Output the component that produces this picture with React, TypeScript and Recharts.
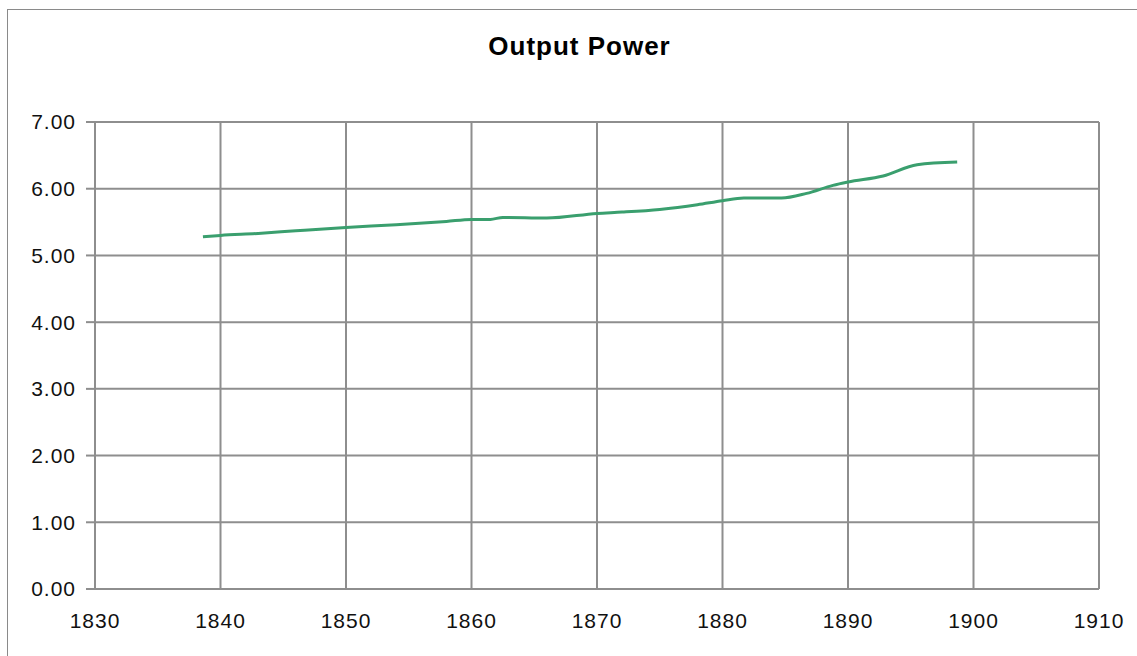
import { CartesianGrid, Line, LineChart, XAxis, YAxis } from 'recharts';

const years = [
  1838.6, 1840, 1843, 1846, 1850, 1854, 1858, 1860, 1861.5, 1862.5, 1866, 1870, 1872, 1875, 1878,
  1880, 1881.7, 1884.7, 1886.7, 1888.8, 1890, 1892.8, 1895.5, 1898.7,
];
const outputPower = [
  5.28, 5.3, 5.33, 5.37, 5.42, 5.46, 5.51, 5.54, 5.54, 5.57, 5.56, 5.63, 5.65, 5.69, 5.76, 5.82,
  5.86, 5.86, 5.93, 6.05, 6.1, 6.19, 6.36, 6.4,
];
const xTicks = [1830, 1840, 1850, 1860, 1870, 1880, 1890, 1900, 1910];
const yTicks = [0, 1, 2, 3, 4, 5, 6, 7];

const data = years.map((year, i) => ({ year, power: outputPower[i] }));

const FONT = '"Liberation Sans", Arial, sans-serif';
const GRID = '#8e8e8e';
const LINE_COLOR = '#3a9f6e';

const tickStyle = { fill: '#111', fontSize: 21, fontFamily: FONT, letterSpacing: 1 };

export default function App() {
  return (
    <div
      style={{
        position: 'absolute',
        left: 0,
        top: 0,
        width: 1137,
        height: 656,
        background: '#fff',
        overflow: 'hidden',
        fontFamily: FONT,
      }}
    >
      {/* outer chart frame, only top and left edges fall inside the picture */}
      <div
        style={{
          position: 'absolute',
          left: 7,
          top: 9,
          width: 1200,
          height: 700,
          borderTop: '1px solid #8a8a8a',
          borderLeft: '1px solid #8a8a8a',
        }}
      />
      <div
        style={{
          position: 'absolute',
          left: 0,
          right: 0,
          top: 33,
          lineHeight: '26px',
          textAlign: 'center',
          paddingLeft: 22,
          fontSize: 26,
          letterSpacing: 1,
          fontWeight: 'bold',
          color: '#000',
        }}
      >
        Output Power
      </div>
      <LineChart
        width={1137}
        height={656}
        data={data}
        margin={{ top: 122, right: 38, bottom: 27, left: 0 }}
        style={{ position: 'absolute', left: 0, top: 0 }}
      >
        <CartesianGrid stroke={GRID} strokeWidth={2} />
        <XAxis
          dataKey="year"
          type="number"
          domain={[1830, 1910]}
          ticks={xTicks}
          height={40}
          tickLine={false}
          tickSize={6}
          tickMargin={18}
          axisLine={{ stroke: GRID, strokeWidth: 2 }}
          tick={tickStyle}
        />
        <YAxis
          type="number"
          domain={[0, 7]}
          ticks={yTicks}
          width={95}
          tickSize={9}
          tickMargin={10}
          tickLine={{ stroke: GRID, strokeWidth: 2 }}
          axisLine={{ stroke: GRID, strokeWidth: 2 }}
          tickFormatter={(v: number) => v.toFixed(2)}
          tick={tickStyle}
        />
        <Line
          type="monotone"
          dataKey="power"
          stroke={LINE_COLOR}
          strokeWidth={3}
          dot={false}
          isAnimationActive={false}
        />
      </LineChart>
    </div>
  );
}
